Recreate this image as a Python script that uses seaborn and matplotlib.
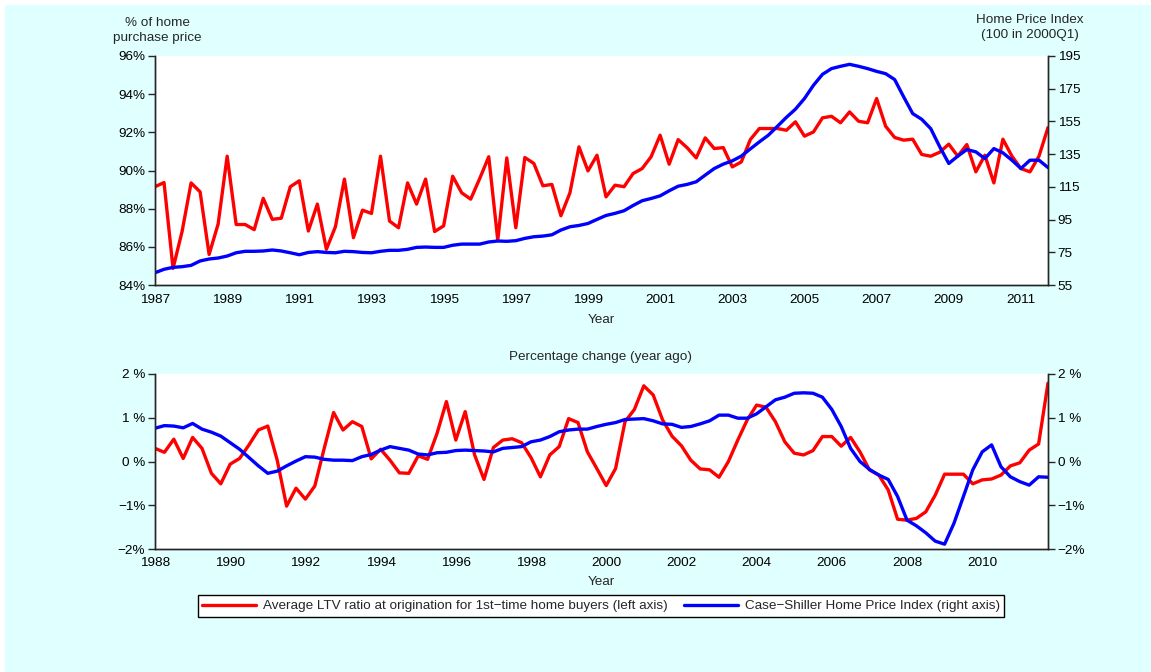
import numpy as np
import pandas as pd
import matplotlib
matplotlib.use('Agg')
import matplotlib.pyplot as plt
import seaborn as sns
from matplotlib.patches import Rectangle

sns.set_style('white')
plt.rcParams['font.family'] = ['Liberation Sans', 'DejaVu Sans']
plt.rcParams['font.size'] = 9.7
plt.rcParams['axes.unicode_minus'] = True

# Quarterly series, levels (1987Q1 - 2011Q4)
ltv_level = [89.15, 89.37, 84.87, 86.8, 89.35, 88.88, 85.6, 87.2, 90.75, 87.17,
             87.17, 86.9, 88.54, 87.44, 87.5, 89.15, 89.46, 86.83, 88.24, 85.87,
             87.05, 89.55, 86.48, 87.92, 87.75, 90.75, 87.35, 87.0, 89.35, 88.24,
             89.55, 86.8, 87.1, 89.7, 88.83, 88.5, 89.58, 90.72, 86.35, 90.66,
             87.0, 90.68, 90.37, 89.2, 89.27, 87.63, 88.83, 91.24, 89.98, 90.8,
             88.62, 89.23, 89.15, 89.84, 90.1, 90.72, 91.85, 90.33, 91.62, 91.19,
             90.66, 91.71, 91.15, 91.2, 90.19, 90.45, 91.62, 92.2, 92.2, 92.2,
             92.11, 92.55, 91.8, 92.02, 92.76, 92.84, 92.5, 93.07, 92.58, 92.5,
             93.77, 92.32, 91.73, 91.59, 91.64, 90.84, 90.75, 90.96, 91.38, 90.75,
             91.36, 89.93, 90.8, 89.35, 91.64, 90.75, 90.1, 89.93, 90.75, 92.25]
hpi_level = [62.5, 64.6, 65.8, 66.2, 67.0, 69.7, 70.9, 71.5, 72.7, 74.7,
             75.6, 75.6, 75.8, 76.4, 75.8, 74.7, 73.5, 74.9, 75.4, 74.9,
             74.7, 75.6, 75.4, 74.9, 74.7, 75.6, 76.2, 76.2, 76.8, 78.0,
             78.2, 78.0, 78.0, 79.3, 80.0, 80.0, 80.0, 81.3, 81.9, 81.7,
             82.1, 83.5, 84.5, 84.9, 85.7, 88.6, 90.6, 91.4, 92.6, 95.1,
             97.5, 98.8, 100.4, 103.6, 106.5, 107.9, 109.5, 112.6, 115.4, 116.5,
             118.1, 122.2, 126.2, 128.9, 130.9, 133.8, 138.2, 142.5, 146.6, 152.0,
             157.5, 162.5, 169.0, 177.1, 183.8, 187.3, 188.7, 189.9, 188.7, 187.3,
             185.6, 184.2, 180.6, 170.0, 159.8, 156.3, 150.6, 139.5, 129.3, 133.8,
             137.8, 136.4, 132.3, 138.4, 135.8, 131.3, 126.2, 131.3, 131.3, 126.8]

# Percentage change, year ago (1988Q1 - 2011Q4)
ltv_change = [0.30, 0.21, 0.51, 0.07, 0.55, 0.30, -0.27, -0.51, -0.06, 0.07,
              0.38, 0.72, 0.81, 0.03, -1.02, -0.61, -0.86, -0.56, 0.30, 1.12,
              0.72, 0.91, 0.80, 0.06, 0.28, 0.03, -0.26, -0.27, 0.13, 0.05,
              0.64, 1.37, 0.49, 1.14, 0.15, -0.41, 0.32, 0.49, 0.52, 0.43,
              0.09, -0.35, 0.15, 0.34, 0.98, 0.89, 0.22, -0.16, -0.55, -0.16,
              0.91, 1.19, 1.73, 1.52, 0.95, 0.58, 0.36, 0.03, -0.17, -0.19,
              -0.36, 0.00, 0.49, 0.95, 1.29, 1.24, 0.91, 0.45, 0.19, 0.15,
              0.25, 0.57, 0.57, 0.35, 0.55, 0.22, -0.19, -0.31, -0.65, -1.32,
              -1.34, -1.30, -1.15, -0.77, -0.29, -0.29, -0.29, -0.51, -0.42, -0.40,
              -0.31, -0.10, -0.03, 0.26, 0.40, 1.79]
hpi_change = [0.76, 0.82, 0.81, 0.77, 0.87, 0.74, 0.67, 0.58, 0.43, 0.28,
              0.09, -0.10, -0.27, -0.22, -0.10, 0.01, 0.11, 0.10, 0.05, 0.03,
              0.03, 0.02, 0.11, 0.16, 0.26, 0.34, 0.30, 0.26, 0.17, 0.15,
              0.20, 0.21, 0.25, 0.26, 0.25, 0.24, 0.22, 0.30, 0.32, 0.34,
              0.45, 0.49, 0.57, 0.68, 0.72, 0.74, 0.74, 0.80, 0.85, 0.89,
              0.96, 0.97, 0.98, 0.93, 0.86, 0.85, 0.78, 0.80, 0.86, 0.93,
              1.06, 1.06, 0.99, 0.99, 1.09, 1.25, 1.41, 1.47, 1.56, 1.57,
              1.56, 1.47, 1.19, 0.80, 0.30, 0.00, -0.18, -0.31, -0.41, -0.80,
              -1.34, -1.47, -1.63, -1.82, -1.89, -1.41, -0.80, -0.19, 0.22, 0.38,
              -0.12, -0.35, -0.46, -0.54, -0.35, -0.36]

top_years = 1987 + np.arange(len(ltv_level)) / 4
bot_years = 1988 + np.arange(len(ltv_change)) / 4

top_df = pd.DataFrame({'year': top_years, 'ltv': ltv_level, 'hpi': hpi_level})
bot_df = pd.DataFrame({'year': bot_years, 'ltv': ltv_change, 'hpi': hpi_change})

RED = '#FF0000'
BLUE = '#0000FF'
DARK = '#262626'
LW = 2.4
FS = 9.7

fig = plt.figure(figsize=(11.51, 6.72), dpi=100, facecolor='white')
fig.patches.append(Rectangle((5 / 1151, 0), 1 - 5 / 1151, 1 - 5 / 672,
                             transform=fig.transFigure, facecolor='#E0FFFF',
                             edgecolor='none', zorder=-10))

ax1 = fig.add_axes([155 / 1151, 1 - 285 / 672, 893 / 1151, 229 / 672])
ax2 = fig.add_axes([155 / 1151, 1 - 549 / 672, 893 / 1151, 175 / 672])


def style_axes(ax, ax_r, xpad):
    ax.set_facecolor('white')
    for a in (ax, ax_r):
        a.spines['top'].set_visible(False)
        for s in ('left', 'right', 'bottom'):
            a.spines[s].set_color(DARK)
            a.spines[s].set_linewidth(1.0)
    ax.tick_params(axis='x', direction='in', length=7, width=1, color=DARK,
                   labelsize=FS, labelcolor='black', pad=xpad)
    ax.tick_params(axis='y', direction='out', length=5, width=1, color=DARK,
                   labelsize=FS, labelcolor='black', pad=2)
    ax_r.tick_params(axis='y', direction='out', length=5, width=1, color=DARK,
                     labelsize=FS, labelcolor='black', pad=2)
    ax.set_xlabel('Year', fontsize=FS, labelpad=5.5)
    ax.set_ylabel('')
    ax_r.set_ylabel('')


# Top panel: levels
ax1r = ax1.twinx()
sns.lineplot(data=top_df, x='year', y='ltv', ax=ax1, color=RED, linewidth=LW,
             label='Average LTV ratio at origination for 1st\u2212time home buyers (left axis)',
             legend=False)
sns.lineplot(data=top_df, x='year', y='hpi', ax=ax1r, color=BLUE, linewidth=LW,
             label='Case\u2212Shiller Home Price Index (right axis)', legend=False)
ax1.set_xlim(1987, 2011.75)
ax1.set_ylim(84, 96)
ax1r.set_ylim(55, 195)
ax1.set_xticks(np.arange(1987, 2012, 2))
ax1.set_xticklabels([str(y) for y in range(1987, 2012, 2)])
ax1.set_yticks(np.arange(84, 97, 2))
ax1.set_yticklabels([f'{v}%' for v in range(84, 97, 2)])
ax1r.set_yticks(np.arange(55, 196, 20))
style_axes(ax1, ax1r, xpad=6.5)
ax1r.patch.set_visible(False)

# Bottom panel: percentage change
ax2r = ax2.twinx()
sns.lineplot(data=bot_df, x='year', y='ltv', ax=ax2, color=RED, linewidth=LW, legend=False)
sns.lineplot(data=bot_df, x='year', y='hpi', ax=ax2, color=BLUE, linewidth=LW, legend=False)
ax2.set_xlim(1988, 2011.75)
ax2.set_ylim(-2, 2)
ax2r.set_ylim(-2, 2)
ax2.set_xticks(np.arange(1988, 2011, 2))
ax2.set_xticklabels([str(y) for y in range(1988, 2011, 2)])
chg_ticks = [-2, -1, 0, 1, 2]
chg_labels = ['\u22122%', '\u22121%', '0 %', '1 %', '2 %']
ax2.set_yticks(chg_ticks)
ax2.set_yticklabels(chg_labels)
ax2r.set_yticks(chg_ticks)
ax2r.set_yticklabels(chg_labels)
style_axes(ax2, ax2r, xpad=5.5)
ax2r.patch.set_visible(False)

# Axis captions
fig.text(157 / 1151, 1 - 30.5 / 672, '% of home\npurchase price', ha='center', va='center',
         fontsize=FS, linespacing=1.3)
fig.text(1030 / 1151, 1 - 27.5 / 672, 'Home Price Index\n(100 in 2000Q1)', ha='center',
         va='center', fontsize=FS, linespacing=1.3)
fig.text(601 / 1151, 1 - 357 / 672, 'Percentage change (year ago)', ha='center',
         va='center', fontsize=FS)

# Legend
handles = ax1.get_lines()[:1] + ax1r.get_lines()[:1]
labels = [h.get_label() for h in handles]
leg = fig.legend(handles, labels, loc='center', bbox_to_anchor=(601 / 1151, 1 - 606 / 672),
                 ncol=2, frameon=True, fancybox=False, framealpha=1, edgecolor='black',
                 fontsize=FS, handlelength=4.0, handletextpad=0.5, columnspacing=1.2,
                 borderpad=0.35, borderaxespad=0)
leg.get_frame().set_linewidth(1.0)

fig.savefig('out.png', dpi=100, facecolor=fig.get_facecolor())
